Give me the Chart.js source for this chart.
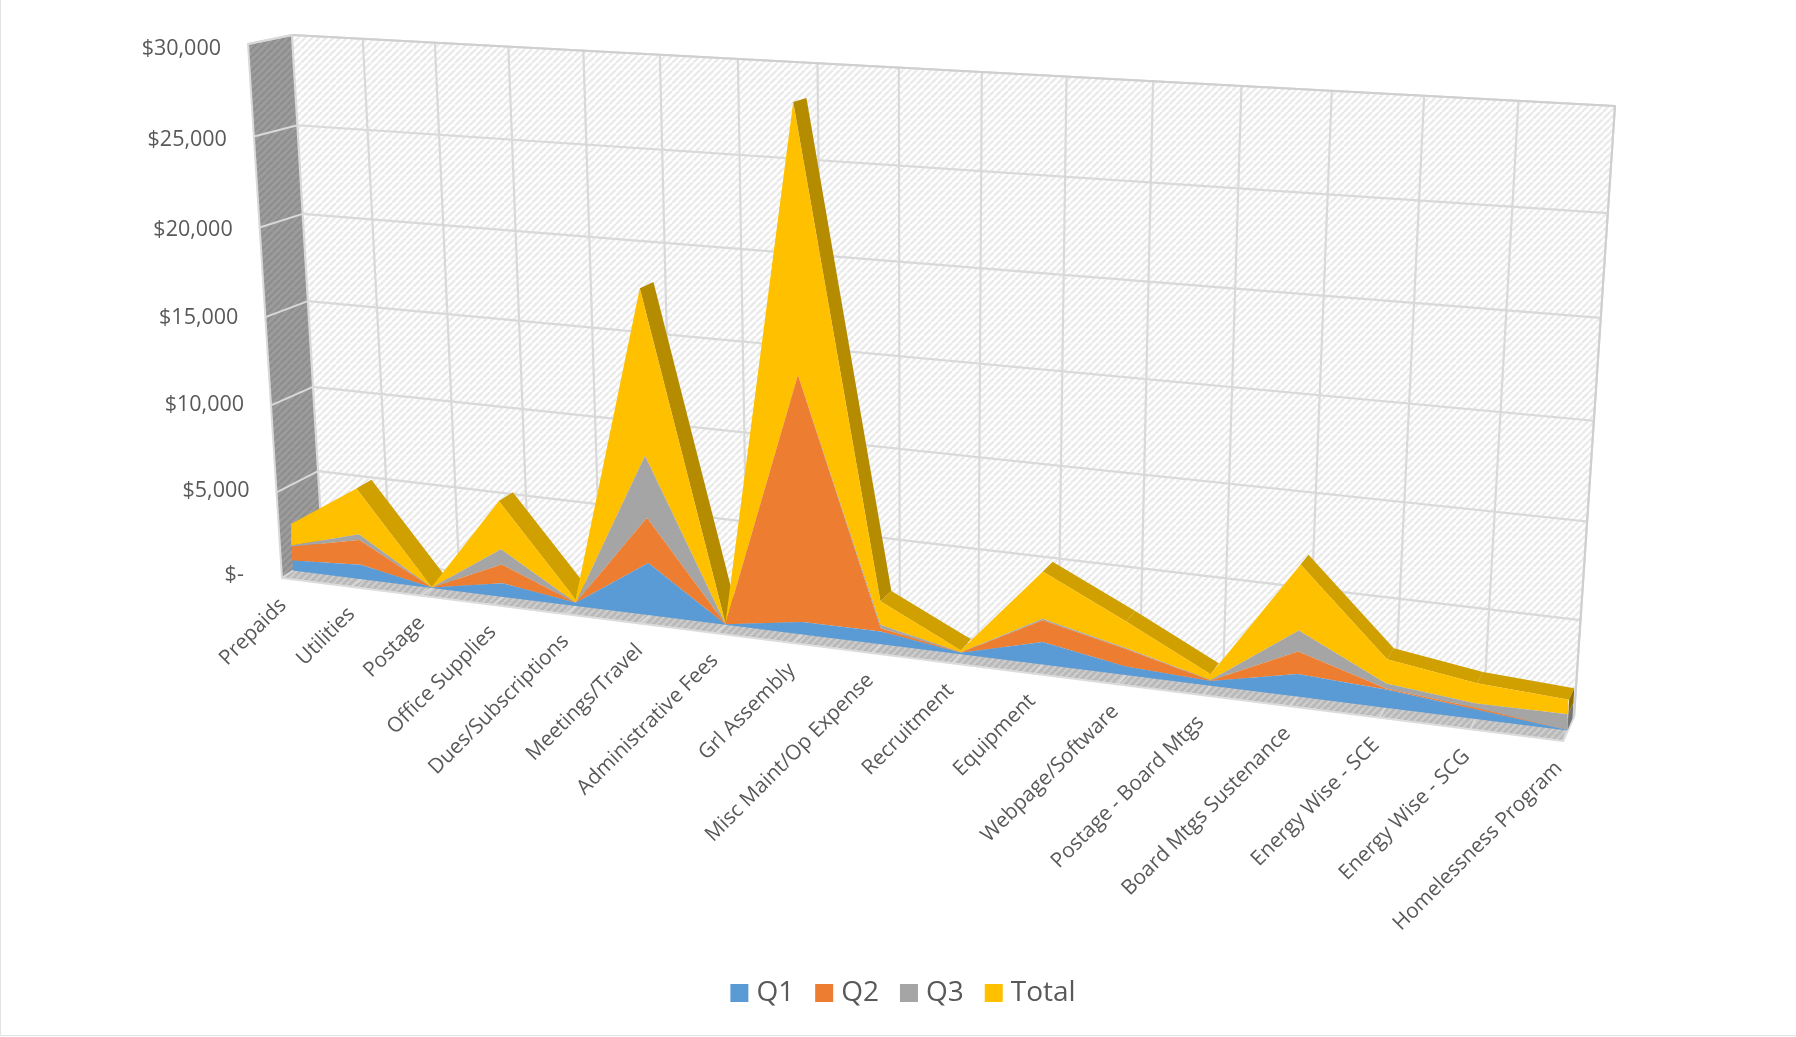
<!DOCTYPE html>
<html>
<head>
<meta charset="utf-8">
<title>Budget by category</title>
<script src="https://cdn.jsdelivr.net/npm/chart.js@4/dist/chart.umd.min.js"></script>
<style>
  html, body { margin: 0; padding: 0; background: #fff; overflow: hidden; }
  canvas { display: block; }
</style>
</head>
<body>
<canvas id="budgetChart" width="1796" height="1037"></canvas>
<script>
const categories = ['Prepaids', 'Utilities', 'Postage', 'Office Supplies', 'Dues/Subscriptions',
  'Meetings/Travel', 'Administrative Fees', 'Grl Assembly', 'Misc Maint/Op Expense', 'Recruitment',
  'Equipment', 'Webpage/Software', 'Postage - Board Mtgs', 'Board Mtgs Sustenance',
  'Energy Wise - SCE', 'Energy Wise - SCG', 'Homelessness Program'];

const q1 = [590, 840, 20, 790, 190, 2955, 30, 700, 700, 90, 1220, 450, 250, 1180, 940, 490, 20];
const q2 = [830, 1450, 10, 1080, 0, 2535, 10, 13415, 190, 10, 1170, 940, 20, 1170, 50, 80, 0];
const q3 = [60, 340, 0, 880, 0, 3440, 5, 0, 170, 10, 85, 50, 30, 1100, 265, 220, 800];
const total = [1240, 2670, 30, 2740, 190, 9100, 40, 14165, 1310, 120, 2515, 1410, 300, 3400, 1250, 1040, 740];

const baseline = categories.map(() => 0);
const valueTickLabels = ['$-\u00a0\u00a0', '$5,000', '$10,000', '$15,000', '$20,000', '$25,000', '$30,000'];

const FONT = '"Open Sans", sans-serif';
const TEXT_COLOR = '#595959';
const GRID_COLOR = '#d9d9d9';

// corners of the 3D box on screen: [left-bottom, right-bottom, right-top, left-top]
const BACK_WALL = [[323, 554], [1574, 717], [1615, 106], [292, 35]];
const FRONT_EDGE = [[282, 578], [1563, 741], [1595, 110], [248, 44]];
// front and back faces of the series slab, same corner order
const SERIES_FRONT = [[292.7, 570.5], [1567.5, 730.5], [1600, 108], [259.4, 41.7]];
const SERIES_BACK = [[308, 560.7], [1572.5, 718.5], [1608, 104], [276, 38.2]];

// unit square -> quad homography, with a small correction of the category spacing
function makeHomography(q) {
  const [[x0, y0], [x1, y1], [x2, y2], [x3, y3]] = q;
  const dx1 = x1 - x2, dx2 = x3 - x2, sx = x0 - x1 + x2 - x3;
  const dy1 = y1 - y2, dy2 = y3 - y2, sy = y0 - y1 + y2 - y3;
  const det = dx1 * dy2 - dx2 * dy1;
  const g = (sx * dy2 - dx2 * sy) / det;
  const h = (dx1 * sy - sx * dy1) / det;
  const a = x1 - x0 + g * x1, b = x3 - x0 + h * x3;
  const d = y1 - y0 + g * y1, e = y3 - y0 + h * y3;
  return (u0, v) => {
    const u = u0 + 0.014 * u0 * (1 - u0);
    const w = g * u + h * v + 1;
    return [(a * u + b * v + x0) / w, (d * u + e * v + y0) / w];
  };
}

const backPlane = makeHomography(BACK_WALL);
const frontPlane = makeHomography(FRONT_EDGE);
const seriesFront = makeHomography(SERIES_FRONT);
const seriesBack = makeHomography(SERIES_BACK);

function hatch(bg, stripe, width) {
  const size = 7;
  const tile = document.createElement('canvas');
  tile.width = tile.height = size;
  const c = tile.getContext('2d');
  c.fillStyle = bg;
  c.fillRect(0, 0, size, size);
  c.strokeStyle = stripe;
  c.lineWidth = width;
  [0, size, -size].forEach(off => {
    c.beginPath();
    c.moveTo(off, size);
    c.lineTo(off + size, 0);
    c.stroke();
  });
  return tile;
}

function polygon(ctx, pts, fill) {
  ctx.beginPath();
  pts.forEach((p, i) => i ? ctx.lineTo(p[0], p[1]) : ctx.moveTo(p[0], p[1]));
  ctx.closePath();
  ctx.fillStyle = fill;
  ctx.fill();
}

function segment(ctx, a, b, color, width) {
  ctx.beginPath();
  ctx.moveTo(a[0], a[1]);
  ctx.lineTo(b[0], b[1]);
  ctx.strokeStyle = color;
  ctx.lineWidth = width;
  ctx.stroke();
}

function toUnit(chart, px, py) {
  const area = chart.chartArea;
  return [(px - area.left) / area.width, (area.bottom - py) / area.height];
}

// moves the points the controller laid out onto the series plane, so the
// line elements and the filler draw the areas in perspective
const perspective = {
  id: 'perspective',
  afterDatasetsUpdate(chart) {
    chart.data.datasets.forEach((ds, index) => {
      chart.getDatasetMeta(index).data.forEach(pt => {
        const [u, v] = toUnit(chart, pt.x, pt.y);
        const front = seriesFront(u, v);
        pt.back = seriesBack(u, v);
        pt.x = front[0];
        pt.y = front[1];
      });
    });
  },
  beforeDatasetsDraw(chart) {
    const ctx = chart.ctx;
    const xScale = chart.scales.x, yScale = chart.scales.y;
    const us = xScale.ticks.map((t, i) => toUnit(chart, xScale.getPixelForTick(i), 0)[0]);
    const vs = yScale.ticks.map(t => toUnit(chart, 0, yScale.getPixelForValue(t.value))[1]);

    ctx.save();
    ctx.lineCap = 'round';

    // outline of the whole chart object
    segment(ctx, [0.5, 0], [0.5, 1035.5], '#e3e3e3', 1);
    segment(ctx, [0.5, 1035.5], [1796, 1035.5], '#e3e3e3', 1);

    // side wall
    polygon(ctx, [frontPlane(0, 0), backPlane(0, 0), backPlane(0, 1), frontPlane(0, 1)],
      ctx.createPattern(hatch('#9c9c9c', '#8d8d8d', 2), 'repeat'));
    vs.forEach(v => segment(ctx, frontPlane(0, v), backPlane(0, v), GRID_COLOR, 2));
    segment(ctx, frontPlane(0, 0), frontPlane(0, 1), GRID_COLOR, 2);

    // back wall
    polygon(ctx, BACK_WALL, ctx.createPattern(hatch('#ffffff', '#eaeaea', 2.4), 'repeat'));
    vs.forEach(v => segment(ctx, backPlane(0, v), backPlane(1, v), GRID_COLOR, 2.2));
    us.forEach(u => segment(ctx, backPlane(u, 0), backPlane(u, 1), GRID_COLOR, 2.2));
    segment(ctx, backPlane(0, 1), backPlane(1, 1), '#cfcfcf', 2);
    segment(ctx, frontPlane(0, 1), backPlane(0, 1), GRID_COLOR, 2);
    segment(ctx, backPlane(1, 0), backPlane(1, 1), '#cfcfcf', 2);

    // floor, visible only in front of and under the series
    polygon(ctx, [frontPlane(0, 0), frontPlane(1, 0), seriesBack(1, 0), seriesBack(0, 0)],
      ctx.createPattern(hatch('#b9b9b9', '#cfcfcf', 2), 'repeat'));
    us.forEach(u => segment(ctx, frontPlane(u, 0), seriesBack(u, 0), GRID_COLOR, 2));
    segment(ctx, frontPlane(0, 0), frontPlane(1, 0), '#dcdcdc', 2);
    segment(ctx, frontPlane(1, 0), backPlane(1, 0), '#dcdcdc', 2);

    // top surface of the stack: only falling stretches stick out behind the front face
    const topPts = chart.getDatasetMeta(chart.data.datasets.length - 1).data;
    for (let i = 0; i < topPts.length - 1; i++) {
      const a = topPts[i], b = topPts[i + 1];
      if (b.y <= a.y) continue;
      const slope = (b.y - a.y) / (b.x - a.x);
      polygon(ctx, [[a.x, a.y], [b.x, b.y], b.back, a.back], slope > 2 ? '#b58c00' : '#cfa000');
    }

    // right end of each stacked layer
    chart.data.datasets.forEach((ds, index) => {
      if (!index) return;
      const last = categories.length - 1;
      const hi = chart.getDatasetMeta(index).data[last];
      const lo = chart.getDatasetMeta(index - 1).data[last];
      polygon(ctx, [[lo.x, lo.y], [hi.x, hi.y], hi.back, lo.back], ds.capColor);
    });

    // value labels beside the side wall
    ctx.font = '21.5px ' + FONT;
    ctx.fillStyle = TEXT_COLOR;
    ctx.textAlign = 'right';
    ctx.textBaseline = 'middle';
    yScale.ticks.forEach((t, i) => {
      const p = frontPlane(0, vs[i]);
      ctx.fillText(t.label, p[0] - 27, p[1] - 3 + 7.5 * vs[i]);
    });

    // category labels under the front edge of the floor
    ctx.font = '20.8px ' + FONT;
    xScale.ticks.forEach((t, i) => {
      const p = frontPlane(us[i], 0);
      ctx.save();
      ctx.translate(p[0] + 1 - 5 * us[i], p[1] + 24);
      ctx.rotate(-45 * Math.PI / 180);
      ctx.fillText(t.label, 0, 0);
      ctx.restore();
    });
    ctx.restore();
  }
};

const layer = (label, data, color, capColor) => ({
  label, data, capColor,
  backgroundColor: color,
  borderColor: color,
  borderWidth: 0,
  pointRadius: 0,
  tension: 0,
  fill: '-1',
  clip: false
});

new Chart(document.getElementById('budgetChart').getContext('2d'), {
  type: 'line',
  data: {
    labels: categories,
    datasets: [
      { ...layer('Floor', baseline, 'rgba(0,0,0,0)', 'rgba(0,0,0,0)'), fill: false },
      layer('Q1', q1, '#5b9bd5', '#3f6f9c'),
      layer('Q2', q2, '#ed7d31', '#a85720'),
      layer('Q3', q3, '#a5a5a5', '#757575'),
      layer('Total', total, '#ffc000', '#8f6e00')
    ]
  },
  plugins: [perspective],
  options: {
    responsive: false,
    animation: false,
    layout: { padding: { bottom: 20, left: 16 } },
    scales: {
      x: { display: false, ticks: { autoSkip: false } },
      y: {
        display: false,
        stacked: true,
        min: 0,
        max: 30000,
        ticks: { stepSize: 5000, callback: (value, i) => valueTickLabels[i] }
      }
    },
    plugins: {
      tooltip: { enabled: false },
      legend: {
        position: 'bottom',
        labels: {
          // small box with a thick border of the same colour keeps the swatch close to its text
          generateLabels: chart => Chart.defaults.plugins.legend.labels.generateLabels(chart)
            .map(item => ({ ...item, lineWidth: 12, strokeStyle: item.fillStyle })),
          filter: item => item.text !== 'Floor',
          boxWidth: 6,
          boxHeight: 6,
          padding: 27,
          color: TEXT_COLOR,
          font: { family: FONT, size: 28 }
        }
      }
    }
  }
});
</script>
</body>
</html>
